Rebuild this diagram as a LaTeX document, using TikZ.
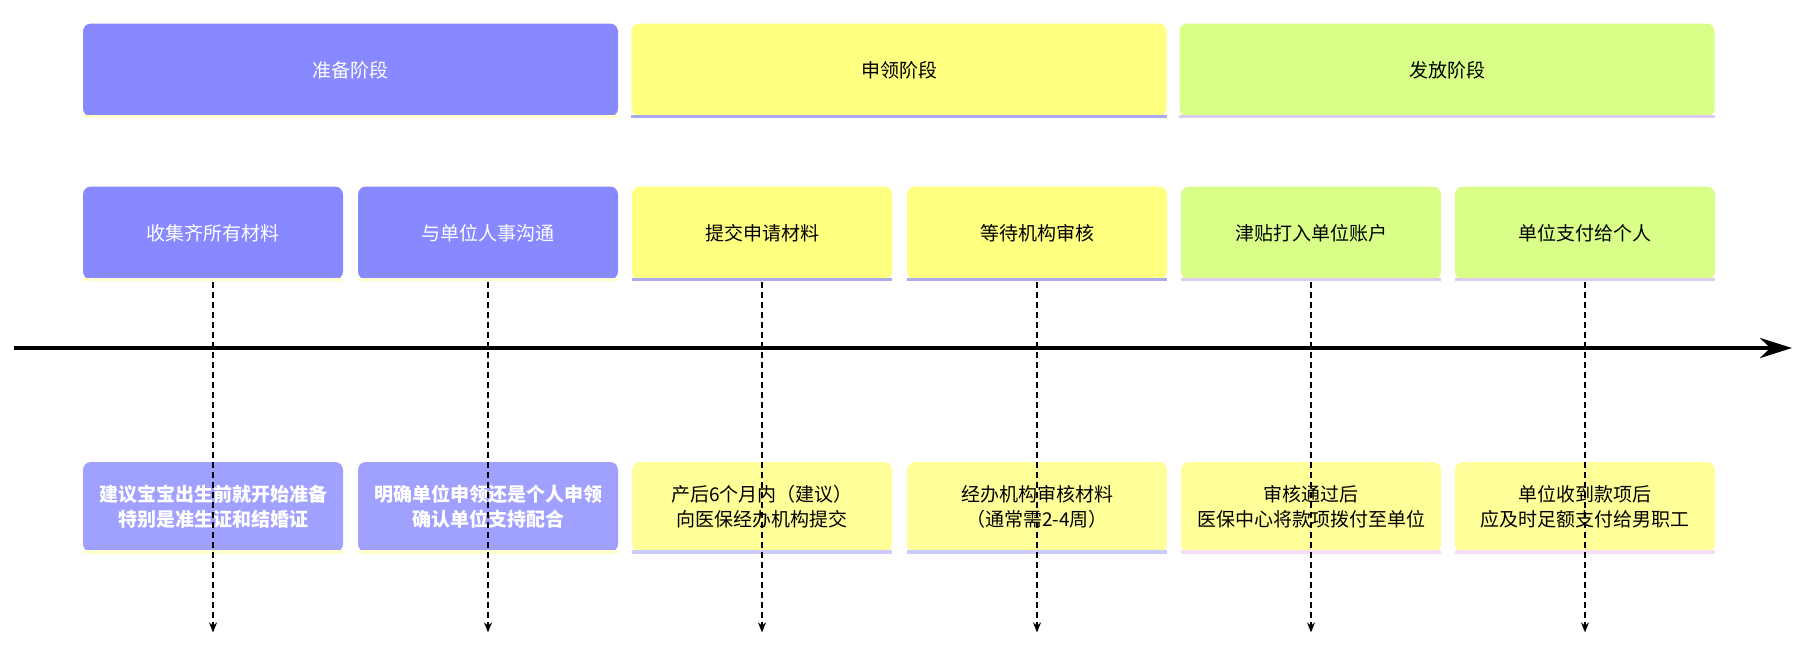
\documentclass[tikz,border=0pt]{standalone}
\usepackage{fontspec}
\setmainfont{Noto Sans CJK SC}
\usetikzlibrary{arrows.meta,positioning}
\definecolor{lila}{HTML}{8888FF}
\definecolor{lilalight}{HTML}{A0A0FF}
\definecolor{gelb}{HTML}{FFFF80}
\definecolor{gelblight}{HTML}{FFFF99}
\definecolor{gruen}{HTML}{D9FF88}
\definecolor{stripY}{HTML}{FFFFCC}
\definecolor{stripL}{HTML}{AAAAEE}
\definecolor{stripP}{HTML}{DDCCEE}
\definecolor{stripB}{HTML}{CCCCFF}
\definecolor{stripR}{HTML}{F5DDF5}
\tikzset{
  card/.style={rounded corners=4pt, inner sep=0pt, align=center,
    font=\fontsize{9.5}{12.5}\selectfont},
  stage/.style={card, minimum width=267.5, minimum height=46.5},
  task/.style={card, minimum width=130, minimum height=46.5},
  note/.style={card, minimum width=130, minimum height=45},
  tick/.style={densely dashed, line width=0.8pt, -{Stealth[length=5pt,width=4pt]}}
}
\newcommand{\strip}[2]{\fill[#2] ([yshift=1pt]#1.south west) rectangle ([yshift=-0.6pt]#1.south east);}
\begin{document}
\begin{tikzpicture}[x=0.5pt,y=-0.5pt]
\useasboundingbox (0,0) rectangle (1811,644);
% phases
\node[stage, fill=lila, text=white] (prep) at (350.5,70) {准备阶段};
\node[stage, fill=gelb] (apply) at (899,70) {申领阶段};
\node[stage, fill=gruen] (pay) at (1447,70) {发放阶段};
\strip{prep}{stripY}\strip{apply}{stripL}\strip{pay}{stripP}
% steps
\node[task, fill=lila, text=white] (s1) at (213,233) {收集齐所有材料};
\node[task, fill=lila, text=white] (s2) at (488,233) {与单位人事沟通};
\node[task, fill=gelb] (s3) at (762,233) {提交申请材料};
\node[task, fill=gelb] (s4) at (1037,233) {等待机构审核};
\node[task, fill=gruen] (s5) at (1311,233) {津贴打入单位账户};
\node[task, fill=gruen] (s6) at (1585,233) {单位支付给个人};
\strip{s1}{stripY}\strip{s2}{stripY}\strip{s3}{stripL}
\strip{s4}{stripL}\strip{s5}{stripP}\strip{s6}{stripP}
% notes
\node[note, fill=lilalight, text=white, font=\fontsize{9.5}{12.5}\selectfont\bfseries] (n1) at (213,507) {建议宝宝出生前就开始准备\\特别是准生证和结婚证};
\node[note, fill=lilalight, text=white, font=\fontsize{9.5}{12.5}\selectfont\bfseries] (n2) at (488,507) {明确单位申领还是个人申领\\确认单位支持配合};
\node[note, fill=gelblight] (n3) at (762,507) {产后6个月内（建议）\\向医保经办机构提交};
\node[note, fill=gelblight] (n4) at (1037,507) {经办机构审核材料\\（通常需2-4周）};
\node[note, fill=gelblight] (n5) at (1311,507) {审核通过后\\医保中心将款项拨付至单位};
\node[note, fill=gelblight] (n6) at (1585,507) {单位收到款项后\\应及时足额支付给男职工};
\strip{n1}{stripY}\strip{n2}{stripY}\strip{n3}{stripB}
\strip{n4}{stripB}\strip{n5}{stripR}\strip{n6}{stripR}
% timeline
\coordinate (t0) at (14,348);
\coordinate (t1) at (1792,348);
\draw[line width=2pt, -{Stealth[length=16pt,width=10pt]}] (t0) -- (t1);
\foreach \i in {1,...,6}{
  \coordinate (e\i) at ([yshift=-40]n\i.south);
  \draw[tick] ([yshift=-1pt]s\i.south) -- (e\i);
}
\end{tikzpicture}
\end{document}
